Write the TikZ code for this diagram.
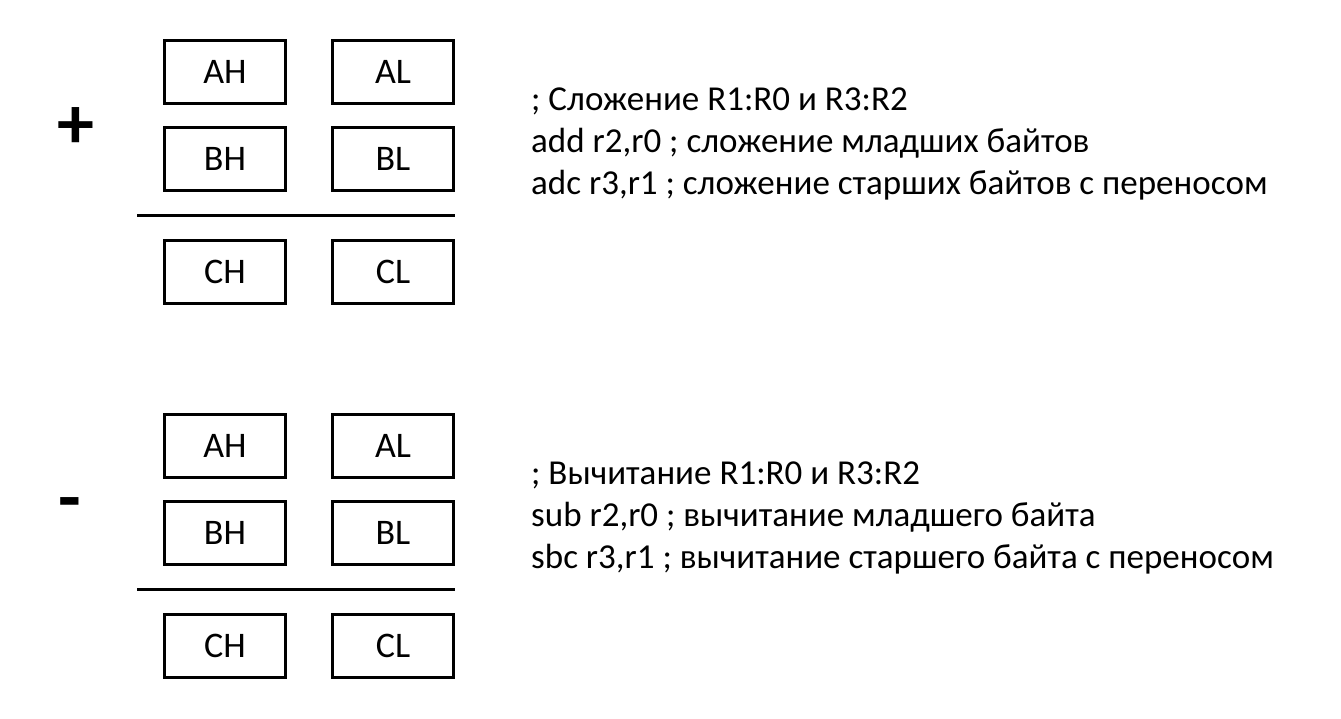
\documentclass[tikz,border=0pt]{standalone}
\usepackage{fontspec}
\setmainfont{Carlito}
\usetikzlibrary{positioning, calc}

\begin{document}
\begin{tikzpicture}[
    x=1pt, y=1pt, font=\fontsize{36}{40}\selectfont,
    reg/.style ={rectangle, draw=black, line width=3pt, minimum width=121pt, minimum height=63pt, inner sep=0pt},
    sign/.style={font=\fontsize{74}{74}\selectfont\bfseries, inner sep=0pt},
    code/.style={font=\fontsize{35}{42}\selectfont, align=left, anchor=west, inner sep=0pt},
    rule/.style={draw=black, line width=3pt},
]
\useasboundingbox (0,0) rectangle (1341,718);
% addition
\node[reg] (ah1) at (225,646) {AH};
\node[reg, right=44pt of ah1] (al1) {AL};
\node[reg, below=21pt of ah1] (bh1) {BH};
\node[reg, below=21pt of al1] (bl1) {BL};
\node[reg, below=47pt of bh1] (ch1) {CH};
\node[reg, below=47pt of bl1] (cl1) {CL};
\node[sign] (plus) at (76,590) {+};
\coordinate (sep1) at ($(bh1.south west)!0.5!(ch1.north west)+(-26,0)$);
\draw[rule] (sep1) -- (sep1 -| bl1.east);
\node[code] (addtxt) at (531,574) {; Сложение R1:R0 и R3:R2\\ add r2,r0 ; сложение младших байтов\\ adc r3,r1 ; сложение старших байтов с переносом};
% subtraction
\node[reg] (ah2) at (225,272) {AH};
\node[reg, right=44pt of ah2] (al2) {AL};
\node[reg, below=21pt of ah2] (bh2) {BH};
\node[reg, below=21pt of al2] (bl2) {BL};
\node[reg, below=47pt of bh2] (ch2) {CH};
\node[reg, below=47pt of bl2] (cl2) {CL};
\node[sign] (minus) at (70,208) {-};
\coordinate (sep2) at ($(bh2.south west)!0.5!(ch2.north west)+(-26,0)$);
\draw[rule] (sep2) -- (sep2 -| bl2.east);
\node[code] (subtxt) at (531,200) {; Вычитание R1:R0 и R3:R2\\ sub r2,r0 ; вычитание младшего байта\\ sbc r3,r1 ; вычитание старшего байта с переносом};
\end{tikzpicture}
\end{document}
